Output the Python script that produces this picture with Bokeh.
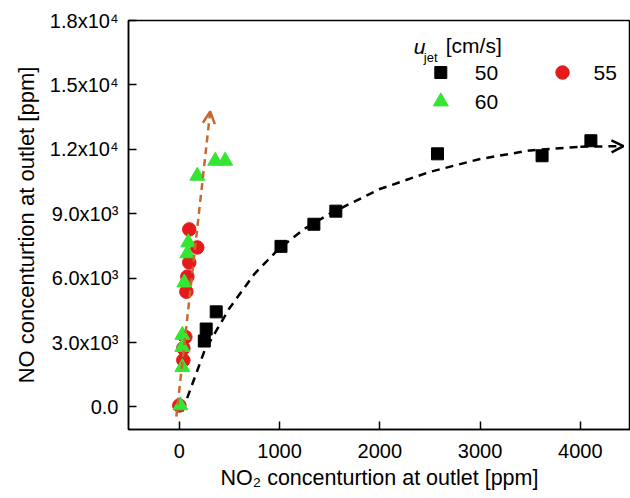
from bokeh.plotting import figure
from bokeh.models import FixedTicker, Range1d, Arrow, OpenHead
from bokeh.core.properties import value
from bokeh.embed import file_html
from bokeh.resources import INLINE

# ---- data ----
x50 = [249, 268, 368, 1014, 1342, 1561, 2575, 3618, 4105]
y50 = [3070, 3630, 4430, 7480, 8510, 9120, 11790, 11700, 12400]

x55 = [0, 40, 40, 60, 70, 80, 99, 179, 99]
y55 = [70, 2180, 2740, 3260, 5370, 6070, 6730, 7430, 8270]

x60 = [10, 30, 30, 30, 50, 80, 89, 179, 358, 457]
y60 = [70, 1850, 2790, 3350, 5790, 7150, 7660, 10760, 11460, 11460]

# trend curve for 50 cm/s
trend50_x = [30, 250, 500, 750, 1000, 1250, 1500, 2000, 2500, 3000, 3500, 4000, 4430]
trend50_y = [-200, 2600, 4600, 6200, 7400, 8300, 9000, 10150, 10950, 11550, 11950, 12120, 12150]

# trend line for 55/60 cm/s
trend60_x = [-30, 308]
trend60_y = [-450, 13760]

x_ticks = [0, 1000, 2000, 3000, 4000]
y_ticks = [0, 3000, 6000, 9000, 12000, 15000, 18000]
y_tick_labels = ["0.0", "3.0x10³", "6.0x10³", "9.0x10³", "1.2x10⁴", "1.5x10⁴", "1.8x10⁴"]

legend_labels = ["50", "55", "60"]

FONT = "Liberation Sans"
BLACK = "#000000"
RED = "#E61A1A"
GREEN = "#33E633"
ORANGE = "#C8682C"

p = figure(width=630, height=498, output_backend="svg", toolbar_location=None,
           x_range=Range1d(-507, 4500), y_range=Range1d(-1050, 18000),
           min_border_left=128, min_border_right=0, min_border_top=20, min_border_bottom=69)

p.xgrid.visible = False
p.ygrid.visible = False
p.background_fill_color = "white"
p.outline_line_color = "black"
p.outline_line_width = 1.5

for ax in (p.xaxis[0], p.yaxis[0]):
    ax.axis_line_width = 1.5
    ax.major_tick_in = 8
    ax.major_tick_out = 0
    ax.major_tick_line_width = 1.5
    ax.minor_tick_line_color = None
    ax.major_label_text_font = FONT
    ax.major_label_text_font_size = "20px"
    ax.major_label_text_color = "black"
    ax.axis_label_text_font = FONT
    ax.axis_label_text_font_style = "normal"
    ax.axis_label_text_color = "black"

p.xaxis.axis_label_text_font_size = "21.5px"
p.yaxis.axis_label_text_font_size = "22px"
p.xaxis.ticker = FixedTicker(ticks=x_ticks)
p.yaxis.ticker = FixedTicker(ticks=y_ticks)
p.yaxis.major_label_overrides = {t: l for t, l in zip(y_ticks, y_tick_labels)}
p.xaxis.major_label_standoff = 14
p.yaxis.major_label_standoff = 10
p.xaxis.axis_label = "NO₂ concenturtion at outlet [ppm]"
p.yaxis.axis_label = "NO concenturtion at outlet [ppm]"
p.xaxis.axis_label_standoff = 5
p.yaxis.axis_label_standoff = 8

# trend lines
p.line(trend50_x[:-1], trend50_y[:-1], line_color=BLACK, line_width=2.5, line_dash="8 6")
p.add_layout(Arrow(end=OpenHead(size=12, line_color=BLACK, line_width=2.5),
                   x_start=trend50_x[-2], y_start=trend50_y[-2],
                   x_end=trend50_x[-1], y_end=trend50_y[-1],
                   line_color=BLACK, line_width=2.5, line_dash="8 6"))
p.add_layout(Arrow(end=OpenHead(size=12, line_color=ORANGE, line_width=2.5),
                   x_start=trend60_x[0], y_start=trend60_y[0],
                   x_end=trend60_x[1], y_end=trend60_y[1],
                   line_color=ORANGE, line_width=2.5, line_dash="7 5"))

# data points
p.scatter(x50, y50, marker="square", size=12, fill_color=BLACK, line_color=BLACK)
p.scatter(x55, y55, marker="circle", size=13.5, fill_color=RED, line_color=RED)
p.scatter(x60, y60, marker="triangle", size=15, fill_color=GREEN, line_color=GREEN)

# legend (drawn in data space)
p.text([2339], [16788], text=["u"], text_font=value(FONT), text_font_size="21px",
       text_font_style="italic", text_baseline="alphabetic", text_color="black")
p.text([2438], [16280], text=["jet"], text_font=value(FONT), text_font_size="13px",
       text_baseline="alphabetic", text_color="black")
p.text([2657], [16830], text=["[cm/s]"], text_font=value(FONT), text_font_size="21px",
       text_baseline="alphabetic", text_color="black")

p.scatter([2608], [15577], marker="square", size=12, fill_color=BLACK, line_color=BLACK)
p.scatter([3822], [15577], marker="circle", size=13.5, fill_color=RED, line_color=RED)
p.scatter([2608], [14225], marker="triangle", size=15, fill_color=GREEN, line_color=GREEN)
p.text([2946, 4131, 2946], [15577, 15577, 14225], text=legend_labels,
       text_font=value(FONT), text_font_size="21px", text_baseline="middle", text_color="black")

open("out.html", "w").write(file_html(p, INLINE))
